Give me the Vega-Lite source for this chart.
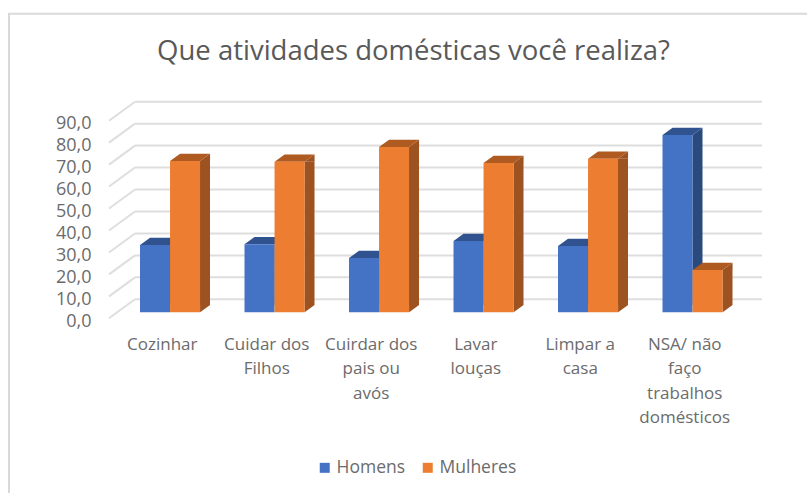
{"$schema":"https://vega.github.io/schema/vega-lite/v6.json","width":627,"height":197.6,"autosize":"none","padding":{"left":135,"top":101.7,"right":45,"bottom":193.7},"background":"white",
"title":{"text":"Que atividades domésticas você realiza?","frame":"group","font":"Open Sans","fontSize":27.5,"fontWeight":"normal","color":"#595959","anchor":"middle","dx":-35,"offset":0,"dy":53},
"config":{"view":{"stroke":null},"axisY":{"title":null,"domain":false,"ticks":false,"grid":false,"labelOverlap":false,"labelFont":"Open Sans","labelFontSize":18,"labelColor":"#6b6b6b","labelPadding":44,"labelOffset":22}},
"datasets":{
"d":[{"cat":"Cozinhar","serie":"Homens","v":30.6},{"cat":"Cozinhar","serie":"Mulheres","v":68.9},{"cat":"Cuidar dos Filhos","serie":"Homens","v":31},{"cat":"Cuidar dos Filhos","serie":"Mulheres","v":68.6},{"cat":"Cuirdar dos pais ou avós","serie":"Homens","v":24.7},{"cat":"Cuirdar dos pais ou avós","serie":"Mulheres","v":75.3},{"cat":"Lavar louças","serie":"Homens","v":32.5},{"cat":"Lavar louças","serie":"Mulheres","v":68},{"cat":"Limpar a casa","serie":"Homens","v":30.2},{"cat":"Limpar a casa","serie":"Mulheres","v":69.9},{"cat":"NSA/ não faço trabalhos domésticos","serie":"Homens","v":80.7},{"cat":"NSA/ não faço trabalhos domésticos","serie":"Mulheres","v":19.3}],
"t":[{"tick":0},{"tick":10},{"tick":20},{"tick":30},{"tick":40},{"tick":50},{"tick":60},{"tick":70},{"tick":80},{"tick":90}],
"f":[{"frame":1}]},
"layer":[
{"data":{"name":"f"},"mark":{"type":"rect","fill":null,"stroke":"#d9d9d9","strokeWidth":2},"encoding":{"x":{"value":-126},"x2":{"value":700},"y":{"value":-88},"y2":{"value":420}}},
{"data":{"name":"t"},"mark":{"type":"rule","color":"#dedede","strokeWidth":2},"encoding":{"y":{"field":"tick","type":"quantitative","scale":{"domain":[0,90],"nice":false},"axis":{"values":[0,10,20,30,40,50,60,70,80,90],"labelExpr":"replace(format(datum.value,'.1f'),'.',',')"}}}},
{"data":{"name":"t"},"mark":{"type":"rule","color":"#dedede","strokeWidth":2,"y2Offset":19},"encoding":{"x":{"value":0},"x2":{"value":-26},"y":{"field":"tick","type":"quantitative","axis":{"values":[0,10,20,30,40,50,60,70,80,90],"labelExpr":"replace(format(datum.value,'.1f'),'.',',')"}},"y2":{"field":"tick"}}},
{"data":{"name":"d"},
"encoding":{
"x":{"field":"cat","type":"nominal","sort":null,"scale":{"paddingInner":0.425,"paddingOuter":0.2125,"range":[-17.2,609.8]},"axis":{"title":null,"domain":false,"ticks":false,"labelAngle":0,"labelFont":"Open Sans","labelFontSize":17,"labelColor":"#6b6b6b","labelPadding":37,"labelOffset":-7.8,"labelLineHeight":24.5,"labelLimit":0,"labelExpr":"{'Cozinhar':['Cozinhar'],'Cuidar dos Filhos':['Cuidar dos','Filhos'],'Cuirdar dos pais ou avós':['Cuirdar dos','pais ou','avós'],'Lavar louças':['Lavar','louças'],'Limpar a casa':['Limpar a','casa'],'NSA/ não faço trabalhos domésticos':['NSA/ não','faço','trabalhos','domésticos']}[datum.value]"}},
"xOffset":{"field":"serie","type":"nominal","sort":["Homens","Mulheres"]},
"y":{"field":"v","type":"quantitative","axis":{"values":[0,10,20,30,40,50,60,70,80,90],"labelExpr":"replace(format(datum.value,'.1f'),'.',',')"}}},
"layer":[
{"transform":[{"filter":"datum.serie==='Homens'"}],"layer":[
{"mark":{"type":"rule","color":"#2a4a7e","strokeWidth":10,"yOffset":13,"y2Offset":5.7},"encoding":{"xOffset":{"value":35},"y2":{"datum":0}}},
{"mark":{"type":"point","filled":true,"opacity":1,"color":"#2a4a7e","size":4,"shape":"M15,0L25,-7.3L25,0Z","yOffset":13}},
{"mark":{"type":"point","filled":true,"opacity":1,"color":"#30538f","size":4,"shape":"M-15,0L15,0L25,-7.3L-5,-7.3Z","yOffset":13}}]},
{"transform":[{"filter":"datum.serie==='Mulheres'"}],"layer":[
{"mark":{"type":"rule","color":"#9c5221","strokeWidth":10,"yOffset":13,"y2Offset":5.7},"encoding":{"xOffset":{"value":65},"y2":{"datum":0}}},
{"mark":{"type":"point","filled":true,"opacity":1,"color":"#9c5221","size":4,"shape":"M15,0L25,-7.3L25,0Z","yOffset":13}},
{"mark":{"type":"point","filled":true,"opacity":1,"color":"#9c5221","size":4,"shape":"M15,0L25,0L15,7.3Z","yOffset":5.7},"encoding":{"y":{"datum":0}}},
{"mark":{"type":"point","filled":true,"opacity":1,"color":"#ae5a21","size":4,"shape":"M-15,0L15,0L25,-7.3L-5,-7.3Z","yOffset":13}}]},
{"mark":{"type":"bar","yOffset":13,"y2Offset":13},"encoding":{"color":{"field":"serie","type":"nominal","scale":{"domain":["Homens","Mulheres"],"range":["#4472c4","#ed7d31"]},"legend":{"title":null,"orient":"none","legendX":181,"legendY":357,"direction":"horizontal","columns":2,"symbolType":"square","symbolSize":100,"labelFont":"Open Sans","labelFontSize":17.5,"labelOffset":3,"labelColor":"#6b6b6b","columnPadding":13}}}}
]}
]}
